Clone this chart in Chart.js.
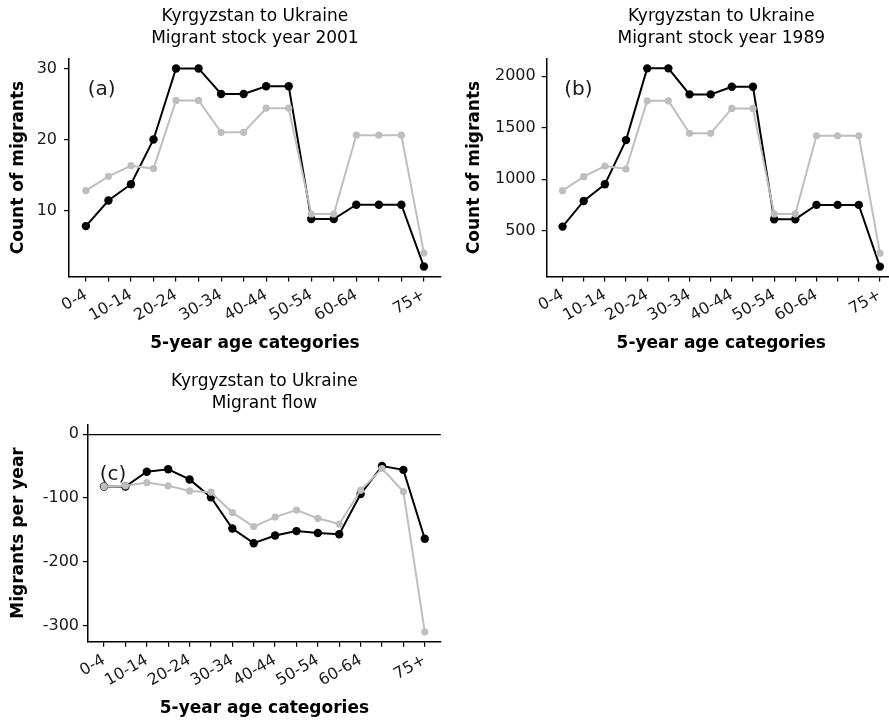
<!DOCTYPE html>
<html><head><meta charset="utf-8">
<script src="https://cdn.jsdelivr.net/npm/chart.js@4"></script>
<style>
html,body{margin:0;padding:0;background:#fff;overflow:hidden;width:889px;height:725px;}
canvas{position:absolute;}
</style></head><body>
<canvas id="ca" width="445" height="360" style="left:0;top:0"></canvas>
<canvas id="cb" width="455" height="360" style="left:445px;top:0"></canvas>
<canvas id="cc" width="445" height="365" style="left:0;top:360px"></canvas>
<script>
const categories = ['0-4','5-9','10-14','15-19','20-24','25-29','30-34','35-39','40-44','45-49','50-54','55-59','60-64','65-69','70-74','75+'];
const shownTickLabels = ['0-4','10-14','20-24','30-34','40-44','50-54','60-64','75+'];

const stock2001Black = [7.8,11.4,13.7,20,30,30,26.4,26.4,27.5,27.5,8.8,8.8,10.8,10.8,10.8,2.1];
const stock2001Grey  = [12.8,14.8,16.3,15.9,25.5,25.5,21.0,21.0,24.4,24.4,9.5,9.5,20.6,20.6,20.6,4.0];
const stock1989Black = [539,788,950,1380,2077,2077,1824,1824,1898,1898,611,611,750,750,750,150];
const stock1989Grey  = [888,1024,1128,1099,1762,1762,1446,1446,1688,1688,662,662,1422,1422,1422,281];
const flowBlack = [-82,-82,-59,-55,-71,-99,-148,-171,-159,-152,-155,-157,-94,-50,-56,-164];
const flowGrey  = [-82,-81,-76,-81,-89,-91,-123,-145,-130,-119,-132,-141,-88,-54,-90,-310];

const yTicksA = [10,20,30];
const yTicksB = [500,1000,1500,2000];
const yTicksC = [-300,-200,-100,0];

const FONT = "'DejaVu Sans', sans-serif";
Chart.defaults.font.family = FONT;
Chart.defaults.color = '#1a1a1a';

const tagPlugin = {
  id: 'tag',
  afterDatasetsDraw(chart, args, opts) {
    const ctx = chart.ctx, xs = chart.scales.x, ys = chart.scales.y;
    ctx.save();
    ctx.font = '20px ' + FONT;
    ctx.fillStyle = '#1a1a1a';
    ctx.textAlign = 'center';
    ctx.textBaseline = 'middle';
    ctx.fillText(opts.text, xs.getPixelForValue(opts.x), ys.getPixelForValue(opts.y));
    ctx.restore();
  }
};

function build(id, cfg) {
  const toPts = arr => arr.map((v, i) => ({x: i, y: v}));
  return new Chart(document.getElementById(id), {
    type: 'line',
    data: {datasets: [
      {data: toPts(cfg.grey), borderColor: '#bebebe', backgroundColor: '#bebebe', borderWidth: 2, pointRadius: 3.6, pointBorderWidth: 0, tension: 0},
      {data: toPts(cfg.black), borderColor: '#000', backgroundColor: '#000', borderWidth: 2, pointRadius: 4.2, pointBorderWidth: 0, tension: 0}
    ]},
    options: {
      responsive: false, animation: false, devicePixelRatio: 1,
      layout: {padding: {left: 0, right: cfg.padRight, top: 0, bottom: 0}},
      plugins: {
        legend: {display: false}, tooltip: {enabled: false},
        title: {display: true, text: cfg.title, fullSize: false, color: '#000',
          font: {size: 17, weight: 'normal', lineHeight: 1.294},
          padding: {top: cfg.titleTop, bottom: cfg.titleBottom}},
        tag: {text: cfg.tag, x: cfg.tagX, y: cfg.tagY}
      },
      scales: {
        x: {
          type: 'linear', min: -0.75, max: 15.75,
          afterBuildTicks: s => { s.ticks = categories.map((c, i) => ({value: i})); },
          afterFit: s => { s.height = cfg.xHeight; },
          ticks: {autoSkip: false, maxRotation: 30, minRotation: 30, padding: 4, font: {size: 16}, color: '#1a1a1a',
            callback: v => shownTickLabels.includes(categories[v]) ? categories[v] : ''},
          grid: {drawOnChartArea: false, drawTicks: true, tickLength: 5, color: '#000', lineWidth: 1.2},
          border: {display: true, color: '#000', width: 1.5},
          title: {display: true, text: '5-year age categories', color: '#000', font: {size: 17, weight: 'bold'}, padding: {top: 0, bottom: 6.5}}
        },
        y: {
          type: 'linear', min: cfg.ymin, max: cfg.ymax,
          afterBuildTicks: s => { s.ticks = cfg.yTicks.map(v => ({value: v})); },
          afterFit: s => { s.width = cfg.yWidth; },
          ticks: {padding: cfg.yPad, font: {size: 16}, color: '#1a1a1a', callback: v => String(v)},
          grid: {drawOnChartArea: !!cfg.zeroLine, drawTicks: true, tickLength: 5, lineWidth: 1.2, tickColor: '#000',
            color: c => (cfg.zeroLine && c.tick && c.tick.value === 0) ? '#000' : (cfg.zeroLine ? 'rgba(0,0,0,0)' : '#000')},
          border: {display: true, color: '#000', width: 1.5},
          title: {display: true, text: cfg.yTitle, color: '#000', font: {size: 17, weight: 'bold'}, padding: {top: cfg.yTitlePad, bottom: 0}}
        }
      }
    },
    plugins: [tagPlugin]
  });
}

build('ca', {
  title: ['Kyrgyzstan to Ukraine', 'Migrant stock year 2001'], titleTop: 5.7, titleBottom: 8.8,
  black: stock2001Black, grey: stock2001Grey, yTicks: yTicksA, ymin: 0.7, ymax: 31.4,
  yTitle: 'Count of migrants', yWidth: 69, yTitlePad: 8.8, yPad: 7, xHeight: 83.5, padRight: 3.5,
  tag: '(a)', tagX: 0.7, tagY: 27
});
build('cb', {
  title: ['Kyrgyzstan to Ukraine', 'Migrant stock year 1989'], titleTop: 5.7, titleBottom: 8.8,
  black: stock1989Black, grey: stock1989Grey, yTicks: yTicksB, ymin: 54, ymax: 2173,
  yTitle: 'Count of migrants', yWidth: 101.7, yTitlePad: 19.1, yPad: 6, xHeight: 83.5, padRight: 4,
  tag: '(b)', tagX: 0.75, tagY: 1866
});
build('cc', {
  title: ['Kyrgyzstan to Ukraine', 'Migrant flow'], titleTop: 10.7, titleBottom: 9.6,
  black: flowBlack, grey: flowGrey, yTicks: yTicksC, ymin: -325.5, ymax: 15.5, zeroLine: true,
  yTitle: 'Migrants per year', yWidth: 88, yTitlePad: 8.8, yPad: 4, xHeight: 83.3, padRight: 3.3,
  tag: '(c)', tagX: 0.42, tagY: -63
});
</script>
</body></html>
